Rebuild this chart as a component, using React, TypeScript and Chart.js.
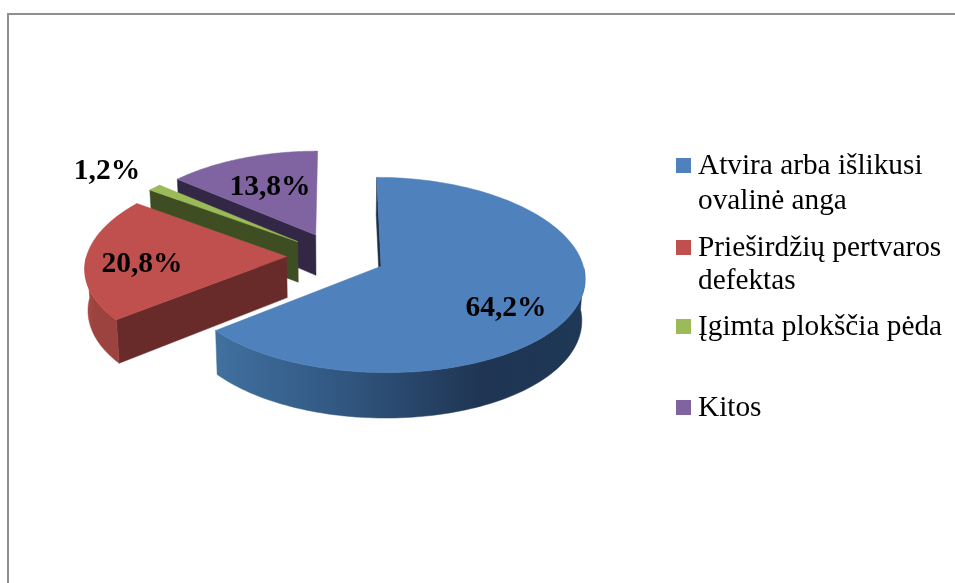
import React, { useEffect, useRef } from "react";
import { Chart, registerables } from "chart.js";

Chart.register(...registerables);

const categories = ["Atvira arba išlikusi ovalinė anga", "Prieširdžių pertvaros defektas", "Įgimta plokščia pėda", "Kitos"];
const values = [64.2, 20.8, 1.2, 13.8];
const legendLines = [["Atvira arba išlikusi", "ovalinė anga"], ["Prieširdžių pertvaros", "defektas"], ["Įgimta plokščia pėda"], ["Kitos"]];
const topColors = ["#4f81bd", "#c0504d", "#9bbb59", "#8064a2"];
const wallColors = ["#1c2f4a", "#692b29", "#3f4e22", "#322745"];
const rimStops = [
  ["#41709f", "#335a85", "#1f3553", "#1e3855"],
  ["#ad4b47", "#9c433f", "#9c433f", "#9c433f"],
  ["#3f4e22", "#3f4e22", "#3f4e22", "#3f4e22"],
  ["#322745", "#322745", "#322745", "#322745"],
];
// Layout only: label anchors and legend rows, in canvas pixels.
const labelAnchors = [[506, 308], [142, 264], [107, 171], [270, 187]];
const legendRows = [[174, 209], [256, 289], [335], [416]];

const EXPLODE = 0.247; // share of the radius each slice is pulled out
const TILT = 0.475; // vertical squash of the ground plane
const PERSPECTIVE_Y = 0.0888;
const PERSPECTIVE_X = 0.105;
const DEPTH = 41;
const RECEDE = 0.013;

const piePlugin = {
  id: "pie3d",
  beforeDraw(chart: any) {
    const { ctx, width, height } = chart;
    ctx.save();
    ctx.fillStyle = "#8f8f8f";
    ctx.fillRect(7, 13, width - 7, 2);
    ctx.fillRect(7, 13, 2, height - 13);
    ctx.restore();
  },
  beforeDatasetsDraw(chart: any) {
    const { ctx } = chart;
    const arcs = chart.getDatasetMeta(0).data as any[];
    const paintOrder = [3, 2, 1, 0];
    for (const i of paintOrder) {
      const arc = arcs[i];
      const { x: cx, y: cy, outerRadius: R, startAngle: a0, endAngle: a1 } = arc;
      const mid = (a0 + a1) / 2;
      const ox = EXPLODE * R * Math.cos(mid);
      const oy = EXPLODE * R * Math.sin(mid);
      const proj = (X: number, Y: number, z: number) => {
        const w = 1 - (PERSPECTIVE_Y * Y) / R;
        const wx = 1 - (PERSPECTIVE_X * Y) / R;
        return [cx + (X / wx) * (1 - RECEDE * z), cy + (TILT * Y) / w + (z * DEPTH) / w];
      };
      const rim = (a: number, z: number) => proj(ox + R * Math.cos(a), oy + R * Math.sin(a), z);
      const apex = (z: number) => proj(ox, oy, z);
      const poly = (pts: number[][], fill: any) => {
        ctx.beginPath();
        pts.forEach((p, k) => (k ? ctx.lineTo(p[0], p[1]) : ctx.moveTo(p[0], p[1])));
        ctx.closePath();
        ctx.fillStyle = fill;
        ctx.strokeStyle = fill;
        ctx.lineWidth = 0.5;
        ctx.fill();
        ctx.stroke();
      };
      // cut wall on the leading edge of the slice
      poly([apex(0), rim(a0, 0), rim(a0, 1), apex(1)], wallColors[i]);
      // curved outer wall: only the part that faces the viewer
      const n = 160;
      const top: number[][] = [];
      const bottom: number[][] = [];
      for (let k = 0; k <= n; k++) {
        const a = a0 + ((a1 - a0) * k) / n;
        if (Math.sin(a) < 0) continue;
        top.push(rim(a, 0));
        bottom.push(rim(a, 1));
      }
      if (top.length > 1) {
        const xs = top.map((p) => p[0]);
        const g = ctx.createLinearGradient(Math.min(...xs), 0, Math.max(...xs), 0);
        rimStops[i].forEach((c, k) => g.addColorStop(k === 0 ? 0 : k === 1 ? 0.3 : k === 2 ? 0.72 : 1, c));
        poly([...top, ...bottom.reverse()], g);
      }
      // top face
      const face: number[][] = [apex(0)];
      for (let k = 0; k <= n; k++) face.push(rim(a0 + ((a1 - a0) * k) / n, 0));
      poly(face, topColors[i]);
    }
    return false;
  },
  afterDraw(chart: any) {
    const { ctx } = chart;
    const data = chart.data.datasets[0].data as number[];
    ctx.save();
    ctx.textBaseline = "middle";
    ctx.textAlign = "center";
    ctx.fillStyle = "#000";
    ctx.font = 'bold 29.5px "Liberation Serif"';
    data.forEach((v, i) => {
      ctx.fillText(v.toFixed(1).replace(".", ",") + "%", labelAnchors[i][0], labelAnchors[i][1]);
    });
    ctx.textBaseline = "alphabetic";
    ctx.textAlign = "left";
    ctx.font = '29.3px "Liberation Serif"';
    legendLines.forEach((lines, i) => {
      const rows = legendRows[i];
      ctx.fillStyle = topColors[i];
      ctx.fillRect(676, rows[0] - 16, 15, 15);
      ctx.fillStyle = "#000";
      lines.forEach((t, j) => ctx.fillText(t, 698, rows[j]));
    });
    ctx.restore();
  },
};

export default function App() {
  const ref = useRef<HTMLCanvasElement>(null);
  useEffect(() => {
    document.body.style.margin = "0";
    const chart = new Chart(ref.current!, {
      type: "pie",
      data: {
        labels: categories,
        datasets: [{ data: values, backgroundColor: topColors, borderWidth: 0 }],
      },
      options: {
        responsive: false,
        animation: false,
        layout: { padding: { left: 136, right: 419, top: 56, bottom: 127 } },
        plugins: { legend: { display: false }, tooltip: { enabled: false } },
      },
      plugins: [piePlugin],
    } as any);
    return () => chart.destroy();
  }, []);
  return <canvas ref={ref} width={955} height={583} style={{ display: "block" }} />;
}
